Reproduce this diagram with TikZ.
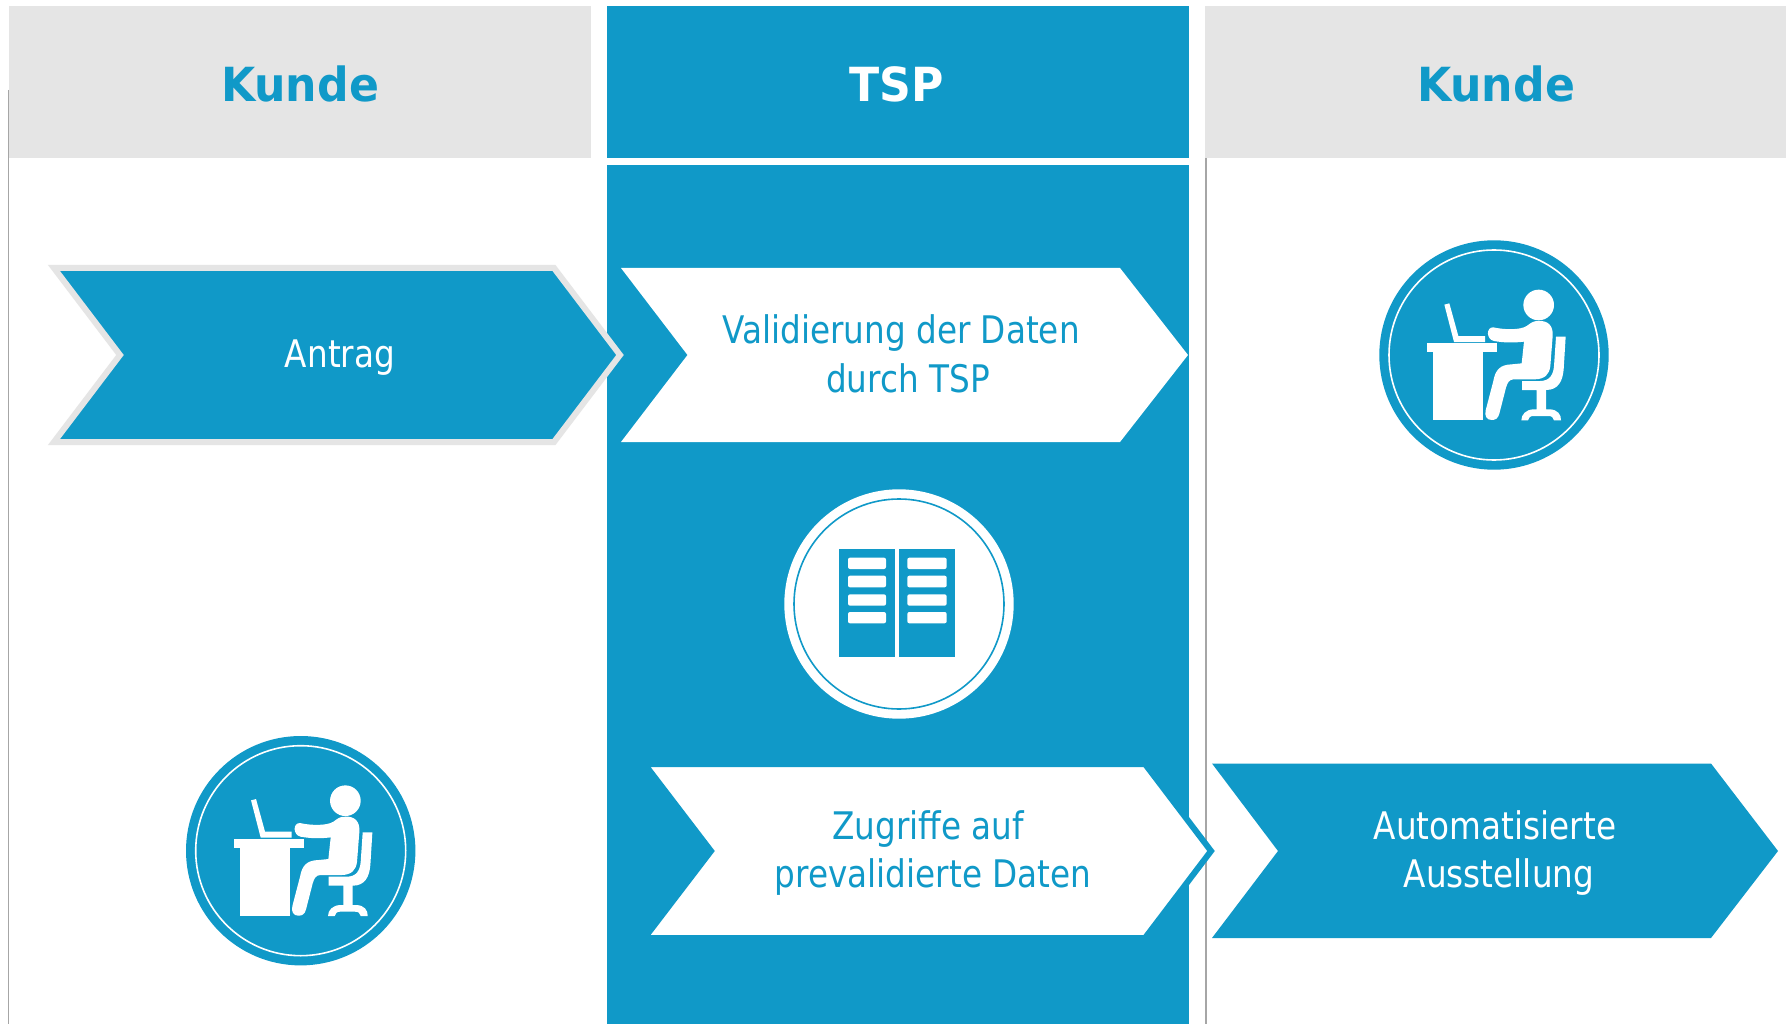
\documentclass[tikz,border=0pt]{standalone}
\usepackage{fontspec}
\setmainfont[FakeStretch=0.86]{DejaVu Sans}
\newfontfamily\headfont[FakeStretch=0.94]{DejaVu Sans Bold}
\definecolor{tspblue}{HTML}{1099C8}
\definecolor{headgrey}{HTML}{E5E5E5}
\definecolor{sidegrey}{HTML}{A6A6A6}
\tikzset{
  x=1pt,y=-1pt,
  headtext/.style={font=\headfont\fontsize{47}{50}\selectfont,inner sep=0pt},
  bodytext/.style={font=\fontsize{38}{48.5}\selectfont,align=center,inner sep=0pt},
  sideline/.style={draw=sidegrey,line width=1.5pt},
  iconring/.style={draw=#1,line width=1.6pt},
  person/.pic={
    \begin{scope}[scale=1/3,shift={(-392,-392)}]
      \fill[white] (191,357) rectangle (402,384);
      \fill[white] (210,384) rectangle (360,587);
      \fill[white] (243,241) -- (258,237) -- (285,335) -- (365,335) -- (365,353) -- (272,353) -- cycle;
      \fill[white] (526,242) circle[radius=46];
      \fill[white] (390,309) .. controls (420,316) and (470,318) .. (490,305)
        .. controls (505,294) and (510,290) .. (525,290)
        .. controls (555,288) and (570,305) .. (568,335)
        -- (561,425) .. controls (558,450) and (545,464) .. (515,465)
        -- (450,465) .. controls (438,466) and (432,475) .. (428,490)
        -- (408,568) .. controls (404,583) and (396,587) .. (385,587)
        .. controls (370,587) and (363,575) .. (367,558)
        -- (390,470) .. controls (396,435) and (412,421) .. (445,420)
        -- (475,417) -- (482,352) .. controls (450,356) and (420,355) .. (392,350)
        .. controls (368,345) and (368,308) .. (390,309) -- cycle;
      \fill[white] (578,337) -- (607,337) -- (601,435)
        .. controls (598,470) and (585,497) .. (548,497)
        -- (548,555) -- (560,555) .. controls (582,556) and (594,570) .. (593,588)
        -- (572,588) .. controls (570,580) and (566,575) .. (555,575)
        -- (510,575) .. controls (500,575) and (496,580) .. (494,588)
        -- (474,588) .. controls (474,570) and (488,556) .. (510,555)
        -- (520,555) -- (520,497) -- (476,497) -- (476,470) -- (530,470)
        .. controls (560,470) and (570,450) .. (572,425) -- cycle;
    \end{scope}
  },
  serverrack/.pic={
    \begin{scope}[scale=1/3,shift={(-387,-372)}]
      \fill[tspblue] (207,208) rectangle (375,532);
      \fill[tspblue] (388,208) rectangle (555,532);
      \foreach \a/\b in {233/267,287/322,343/377,396/430}{
        \fill[white,rounded corners=2pt] (234,\a) rectangle (348,\b);
        \fill[white,rounded corners=2pt] (412,\a) rectangle (530,\b);
      }
    \end{scope}
  }
}
\begin{document}
\begin{tikzpicture}
\useasboundingbox (0,0) rectangle (1791,1024);
\fill[white] (0,0) rectangle (1791,1024);
% headers and central column
\fill[headgrey] (9,6) rectangle (591,158);
\fill[tspblue] (607,6) rectangle (1189,158);
\fill[headgrey] (1205,6) rectangle (1786,158);
\fill[tspblue] (607,165) rectangle (1189,1024);
% side rules
\coordinate (la) at (8.5,90);
\coordinate (lb) at (8.5,1024);
\coordinate (ra) at (1206,158);
\coordinate (rb) at (1206,1024);
\draw[sideline] (la) -- (lb);
\draw[sideline] (ra) -- (rb);
\node[headtext,text=tspblue] (kundeL) at (300,84) {Kunde};
\node[headtext,text=white] (tsp) at (897,84) {TSP};
\node[headtext,text=tspblue] (kundeR) at (1496,84) {Kunde};
% arrows
\draw[draw=headgrey,fill=tspblue,line width=6pt,miter limit=10]
  (54,268) -- (554,268) -- (620,355) -- (554,442) -- (54,442) -- (120,355) -- cycle;
\fill[white] (621,268) -- (1120,268) -- (1188,355) -- (1120,442) -- (621,442) -- (687.5,355) -- cycle;
\draw[draw=tspblue,fill=white,line width=6pt,miter limit=10]
  (644.5,764) -- (1145,764) -- (1211,851) -- (1145,938) -- (644.5,938) -- (711,851) -- cycle;
\fill[tspblue] (1212,763.5) -- (1711,763.5) -- (1778,851) -- (1711,938) -- (1212,938) -- (1278,851) -- cycle;
\node[bodytext,text=white] (antrag) at (340,358) {Antrag};
\node[bodytext,text=tspblue] (valid) at (901,354) {Validierung der Daten\\\hspace*{14pt}durch TSP};
\node[bodytext,text=tspblue] (zugriffe) at (928,853) {Zugriffe auf\\\hspace*{10pt}prevalidierte Daten};
\node[bodytext,text=white] (auto) at (1495,853) {Automatisierte\\\hspace*{8pt}Ausstellung};
% icons
\coordinate (c1) at (300.7,850.7);
\coordinate (c2) at (1494,355);
\coordinate (c3) at (899,604);
\fill[tspblue] (c1) circle[radius=114.7];
\draw[iconring=white] (c1) circle[radius=105];
\pic at (c1) {person};
\fill[tspblue] (c2) circle[radius=114.7];
\draw[iconring=white] (c2) circle[radius=105];
\pic at (c2) {person};
\fill[white] (c3) circle[radius=114.7];
\draw[iconring=tspblue] (c3) circle[radius=105];
\pic at (c3) {serverrack};
\end{tikzpicture}
\end{document}
